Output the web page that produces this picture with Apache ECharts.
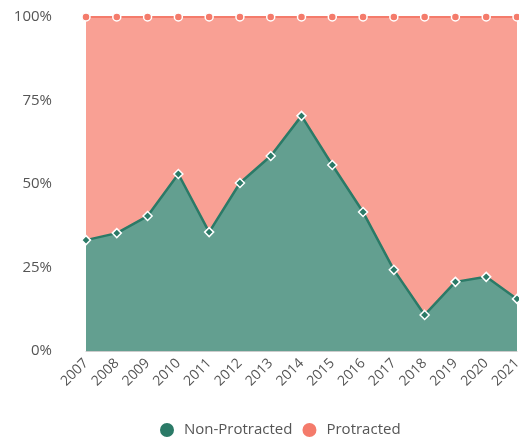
<!DOCTYPE html>
<html>
<head>
<meta charset="utf-8">
<script src="https://cdn.jsdelivr.net/npm/echarts@6/dist/echarts.min.js"></script>
<style>html,body{margin:0;padding:0;background:#fff}#c{width:519px;height:442px}</style>
</head>
<body>
<div id="c"></div>
<script>
var years = ['2007','2008','2009','2010','2011','2012','2013','2014','2015','2016','2017','2018','2019','2020','2021'];
var nonProtracted = [33.2, 35.3, 40.4, 53.0, 35.6, 50.3, 58.4, 70.4, 55.7, 41.6, 24.3, 10.8, 20.7, 22.2, 15.6];
var protracted = [66.8, 64.7, 59.6, 47.0, 64.4, 49.7, 41.6, 29.6, 44.3, 58.4, 75.7, 89.2, 79.3, 77.8, 84.4];
var yTicks = ['0%', '25%', '50%', '75%', '100%'];

var chart = echarts.init(document.getElementById('c'));
var font = '"Open Sans", Lato, sans-serif';
chart.setOption({
  animation: false,
  grid: {left: 86, right: 2, top: 17, bottom: 91, containLabel: false, outerBoundsMode: 'none'},
  legend: {
    top: 418, left: 155, padding: 3,
    icon: 'circle', itemWidth: 16, itemHeight: 16, itemGap: 8,
    textStyle: {color: '#555', fontSize: 15, fontFamily: font, padding: [0, 0, 0, 4]},
    data: ['Non-Protracted', 'Protracted']
  },
  xAxis: {
    type: 'category', boundaryGap: false, data: years,
    axisLine: {lineStyle: {color: '#ccc'}},
    axisTick: {show: false},
    axisLabel: {rotate: 45, color: '#555', fontSize: 14, fontFamily: font, margin: 10}
  },
  yAxis: {
    type: 'value', min: 0, max: 100, interval: 25,
    axisLine: {show: false}, axisTick: {show: false},
    axisLabel: {color: '#555', fontSize: 15, fontFamily: font, margin: 34,
      formatter: function (v) { return yTicks[v / 25]; }},
    splitLine: {lineStyle: {color: '#eee'}}
  },
  series: [
    {
      name: 'Non-Protracted', type: 'line', stack: 'total', data: nonProtracted,
      symbol: 'diamond', symbolSize: 9, showAllSymbol: true,
      itemStyle: {color: '#2b7a67', borderColor: '#fff', borderWidth: 1.5},
      lineStyle: {color: '#2b7a67', width: 2.5},
      areaStyle: {color: '#639f90', opacity: 1},
      z: 3
    },
    {
      name: 'Protracted', type: 'line', stack: 'total', data: protracted,
      symbol: 'circle', symbolSize: 8, showAllSymbol: true,
      itemStyle: {color: '#f47b6b', borderColor: '#fff', borderWidth: 1.5},
      lineStyle: {color: '#f47b6b', width: 2},
      areaStyle: {color: '#f9a094', opacity: 1},
      z: 2
    }
  ]
});
</script>
</body>
</html>
